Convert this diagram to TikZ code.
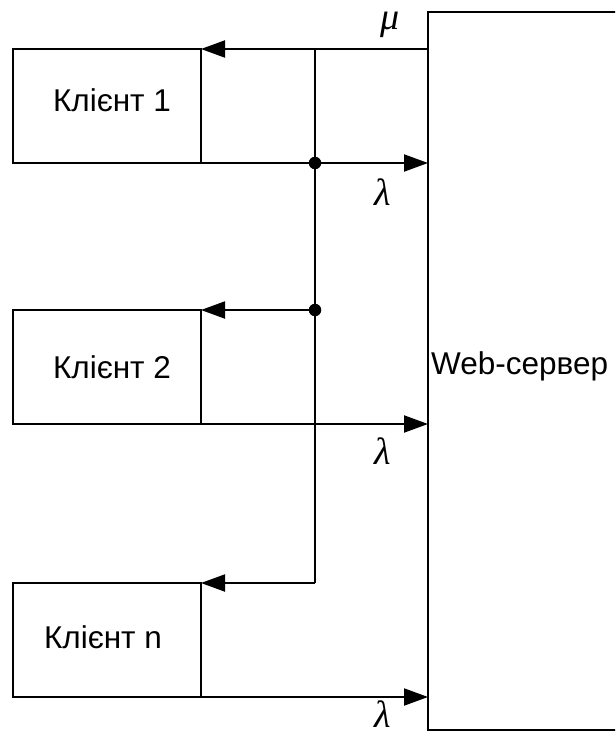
\documentclass[tikz,border=0pt]{standalone}
\usepackage{fontspec}
\setmainfont{Liberation Sans}
\newfontfamily\grkfont{Liberation Serif}
\usetikzlibrary{arrows.meta,calc}
\tikzset{
  ln/.style={line width=2pt},
  client/.style={draw,line width=2pt,minimum width=188pt,minimum height=114pt,inner sep=0pt,outer sep=0pt},
  server/.style={draw,line width=2pt,minimum width=212pt,minimum height=718pt,inner sep=0pt,outer sep=0pt},
  lbl/.style={font=\fontsize{31.5}{38}\selectfont,inner sep=0pt,anchor=base},
  greek/.style={font=\grkfont\itshape\fontsize{38}{44}\selectfont,inner sep=0pt},
  arr/.style={line width=2pt,-{Triangle[length=24pt,width=17pt]}},
  dotnode/.style={circle,fill=black,inner sep=0pt,minimum size=12.5pt}
}
\begin{document}
\begin{tikzpicture}[x=1pt,y=-1pt]
\useasboundingbox (0,0) rectangle (615,735);
\clip (0,0) rectangle (615,735);
% server
\node[server] (srv) at (534,371) {};
\node[lbl,anchor=base west] (srvt) at (431,374) {Web-сервер};
% clients
\node[client] (c1) at (107,106) {};
\node[client] (c2) at (107,367) {};
\node[client] (cn) at (107,640) {};
\node[lbl] (t1) at (112,112) {Клієнт 1};
\node[lbl] (t2) at (112,378) {Клієнт 2};
\node[lbl] (tn) at (103,648) {Клієнт n};
% junctions
\coordinate (j0) at (315,49);
\coordinate (j1) at (315,163);
\coordinate (j2) at (315,310);
\coordinate (jn) at (315,583);
% connectors
\draw[arr] (srv.west |- c1.north east) -- (c1.north east);
\draw[ln] (j0) -- (jn);
\draw[arr] (j2) -- (c2.north east);
\draw[arr] (jn) -- (cn.north east);
\draw[arr] (c1.south east) -- (srv.west |- c1.south east);
\draw[arr] (c2.south east) -- (srv.west |- c2.south east);
\draw[arr] (cn.south east) -- (srv.west |- cn.south east);
\node[dotnode] (d1) at (j1) {};
\node[dotnode] (d2) at (j2) {};
% labels
\node[greek] (mu) at (390,25) {μ};
\node[greek] (l1) at (383,192) {λ};
\node[greek] (l2) at (383,451) {λ};
\node[greek] (l3) at (383,714) {λ};
\end{tikzpicture}
\end{document}
